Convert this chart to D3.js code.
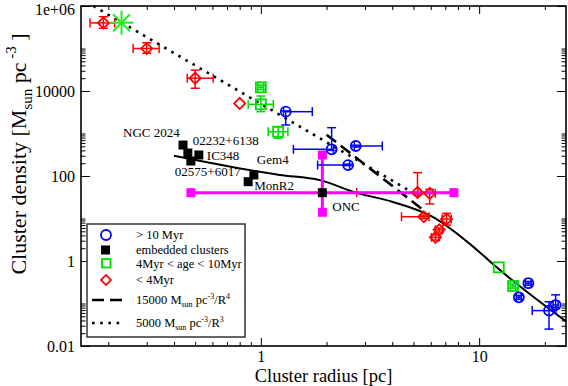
<!DOCTYPE html>
<html>
<head>
<meta charset="utf-8">
<script src="https://cdn.jsdelivr.net/npm/d3@7"></script>
<style>
  body { margin: 0; background: #fff; }
  text { font-family: "Liberation Serif", "Times New Roman", serif; }
</style>
</head>
<body>
<div id="chart"></div>
<script>
let width = 568,
    height = 386,
    margin = ({ top: 6, right: 2, bottom: 40, left: 81 });

// radius [pc], density [Msun pc^-3], error ranges where the picture shows them
const oldClusters = [ // > 10 Myr
  { r: 1.30, d: 3260, rLo: 1.27, rHi: 1.72, dLo: 1585, dHi: 3400 },
  { r: 2.11, d: 425, rLo: 1.41, rHi: 2.15, dLo: 400, dHi: 1370 },
  { r: 2.72, d: 508, rLo: 2.68, rHi: 3.6, dLo: 480, dHi: 530 },
  { r: 2.51, d: 181, rLo: 1.82, rHi: 2.55, dLo: 175, dHi: 190 },
  { r: 16.8, d: 0.30, rLo: 16.3, rHi: 17.3, dLo: 0.27, dHi: 0.33 },
  { r: 15.2, d: 0.14, rLo: 14.8, rHi: 15.6, dLo: 0.125, dHi: 0.155 },
  { r: 22.4, d: 0.092, rLo: 21.8, rHi: 23.0, dLo: 0.08, dHi: 0.16 },
  { r: 20.9, d: 0.068, rLo: 17.5, rHi: 22.5, dLo: 0.025, dHi: 0.11 }
];

const embedded = [
  { name: "NGC 2024", r: 0.44, d: 535 },
  { name: "02232+6138", r: 0.463, d: 348 },
  { name: "IC348", r: 0.52, d: 312 },
  { name: "02575+6017", r: 0.478, d: 225 },
  { name: "Gem4", r: 0.929, d: 106 },
  { name: "MonR2", r: 0.875, d: 73.5 },
  { name: "ONC", r: 1.913, d: 40.5 }
];
const oncError = { rLo: 0.478, rHi: 7.66, dLo: 14, dHi: 312 };

const midAge = [ // 4 Myr < age < 10 Myr
  { r: 1.0, d: 12200, rLo: 0.97, rHi: 1.03, dLo: 10800, dHi: 13800 },
  { r: 1.0, d: 4860, rLo: 0.875, rHi: 1.14, dLo: 3260, dHi: 7620 },
  { r: 1.2, d: 1100, rLo: 1.08, rHi: 1.33, dLo: 770, dHi: 1445 },
  { r: 12.3, d: 0.71 },
  { r: 14.3, d: 0.258, rLo: 13.9, rHi: 14.7, dLo: 0.23, dHi: 0.29 }
];
const star = { r: 0.230, d: 4.05e5 };

const young = [ // < 4 Myr
  { r: 0.19, d: 4.0e5, rLo: 0.165, rHi: 0.214, dLo: 3.0e5, dHi: 5.6e5 },
  { r: 0.30, d: 1.0e5, rLo: 0.26, rHi: 0.342, dLo: 7.7e4, dHi: 1.37e5 },
  { r: 0.50, d: 2.0e4, rLo: 0.46, rHi: 0.605, dLo: 1.16e4, dHi: 3.1e4 },
  { r: 0.80, d: 5100 },
  { r: 5.22, d: 41, rLo: 2.75, rHi: 7.6, dLo: 36, dHi: 120 },
  { r: 5.94, d: 39, rLo: 5.24, rHi: 6.3, dLo: 22, dHi: 48.5 },
  { r: 5.58, d: 11, rLo: 4.41, rHi: 5.9, dLo: 10, dHi: 12 },
  { r: 7.09, d: 9.7, rLo: 6.76, rHi: 7.45, dLo: 7.0, dHi: 13.2 },
  { r: 6.56, d: 5.4, rLo: 6.3, rHi: 6.8, dLo: 4.8, dHi: 6.0 },
  { r: 6.31, d: 3.6, rLo: 6.05, rHi: 6.55, dLo: 3.1, dHi: 4.1 }
];

// reference lines and model curve
const dashR = [2.0, 5.5], dashD = [937, 16.4];     // 15000 / R^4
const dotR = [0.171, 4.7], dotD = [1e6, 48];       // 5000 / R^3
const modelR = [0.40, 1.22, 1.86, 2.75, 4.0, 6.1, 9.8, 12.0, 25];
const modelD = [300, 106, 80, 40, 24.8, 11, 1.8, 0.72, 0.038];

const xMajor = [1, 10], xLabels = ["1", "10"];
const yMajor = [0.01, 1, 100, 1e4, 1e6], yLabels = ["0.01", "1", "100", "10000", "1e+06"];

const svg = d3.select("#chart")
  .append("svg")
  .attr("width", width)
  .attr("height", height)
  .attr("viewBox", [0, 0, width, height]);

let x = d3.scaleLog()
  .domain([0.15, 25])
  .range([margin.left, width - margin.right]);

let y = d3.scaleLog()
  .domain([0.01, 1e6])
  .range([height - margin.bottom, margin.top]);

// minor ticks: 2..9 per decade on x, k * major (k = 2..10) on y
let xMinor = [];
[0.1, 1, 10].forEach(m => { for (let k = 2; k <= 9; k++) xMinor.push(k * m); });
xMinor = xMinor.filter(v => v >= 0.15 && v <= 25);
let yMinor = [];
yMajor.slice(0, -1).forEach(m => { for (let k = 2; k <= 10; k++) yMinor.push(k * m); });

function styleAxis(g) {
  g.select(".domain").remove();
  g.selectAll("line").attr("stroke", "#000");
  g.selectAll("text").attr("font-size", 16).attr("fill", "#000")
    .attr("font-family", "Liberation Serif, serif");
}

const bottom = height - margin.bottom, right = width - margin.right;

// x axis: bottom with labels, top mirrored
svg.append("g").attr("transform", `translate(0,${bottom})`)
  .call(d3.axisBottom(x).tickValues(xMajor).tickFormat((d, i) => xLabels[i])
    .tickSize(-8).tickPadding(5)).call(styleAxis);
svg.append("g").attr("transform", `translate(0,${bottom})`)
  .call(d3.axisBottom(x).tickValues(xMinor).tickFormat("").tickSize(-4)).call(styleAxis);
svg.append("g").attr("transform", `translate(0,${margin.top})`)
  .call(d3.axisTop(x).tickValues(xMajor).tickFormat("").tickSize(-8)).call(styleAxis);
svg.append("g").attr("transform", `translate(0,${margin.top})`)
  .call(d3.axisTop(x).tickValues(xMinor).tickFormat("").tickSize(-4)).call(styleAxis);

// y axis: left with labels, right mirrored
svg.append("g").attr("transform", `translate(${margin.left},0)`)
  .call(d3.axisLeft(y).tickValues(yMajor).tickFormat((d, i) => yLabels[i])
    .tickSize(-9).tickPadding(6)).call(styleAxis)
  .selectAll("text").attr("dy", (d, i) => i === yMajor.length - 1 ? "0.5em" : "0.32em");
svg.append("g").attr("transform", `translate(${margin.left},0)`)
  .call(d3.axisLeft(y).tickValues(yMinor).tickFormat("").tickSize(-4.5)).call(styleAxis);
svg.append("g").attr("transform", `translate(${right},0)`)
  .call(d3.axisRight(y).tickValues(yMajor).tickFormat("").tickSize(-9)).call(styleAxis);
svg.append("g").attr("transform", `translate(${right},0)`)
  .call(d3.axisRight(y).tickValues(yMinor).tickFormat("").tickSize(-4.5)).call(styleAxis);

// frame
svg.append("rect")
  .attr("x", margin.left).attr("y", margin.top)
  .attr("width", right - margin.left).attr("height", bottom - margin.top)
  .attr("fill", "none").attr("stroke", "#000").attr("stroke-width", 1.6);

// axis titles
svg.append("text")
  .attr("x", (margin.left + right) / 2).attr("y", 382)
  .attr("text-anchor", "middle").attr("font-size", 18.5)
  .text("Cluster radius [pc]");

let yt = svg.append("text")
  .attr("transform", `translate(26,154) rotate(-90)`)
  .attr("text-anchor", "middle").attr("font-size", 22);
yt.append("tspan").text("Cluster density [M");
yt.append("tspan").attr("dy", 6).attr("font-size", 15).text("sun");
yt.append("tspan").attr("dy", -6).text(" pc");
yt.append("tspan").attr("dy", -10).attr("font-size", 15).text(" -3");
yt.append("tspan").attr("dy", 10).text(" ]");

// lines
let line = d3.line()
  .x(d => x(d[0]))
  .y(d => y(d[1]));

svg.append("path")
  .datum(dotR.map((r, i) => [r, dotD[i]]))
  .attr("fill", "none").attr("stroke", "#000").attr("stroke-width", 2.6)
  .attr("stroke-dasharray", "2.6 5.6")
  .attr("d", line);

svg.append("path")
  .datum(dashR.map((r, i) => [r, dashD[i]]))
  .attr("fill", "none").attr("stroke", "#000").attr("stroke-width", 2.6)
  .attr("stroke-dasharray", "12 6")
  .attr("d", line);

svg.append("path")
  .datum(modelR.map((r, i) => [r, modelD[i]]))
  .attr("fill", "none").attr("stroke", "#000").attr("stroke-width", 2)
  .attr("d", line.curve(d3.curveMonotoneX));

// error bars
function errorBars(data, color) {
  let g = svg.append("g").attr("stroke", color).attr("stroke-width", 1.5).attr("fill", "none");
  data.filter(d => d.rLo !== undefined).forEach(d => {
    let cy = y(d.d), cx = x(d.r);
    g.append("line").attr("x1", x(d.rLo)).attr("x2", x(d.rHi)).attr("y1", cy).attr("y2", cy);
    [d.rLo, d.rHi].forEach(v => g.append("line")
      .attr("x1", x(v)).attr("x2", x(v)).attr("y1", cy - 4.5).attr("y2", cy + 4.5));
    g.append("line").attr("x1", cx).attr("x2", cx).attr("y1", y(d.dLo)).attr("y2", y(d.dHi));
    [d.dLo, d.dHi].forEach(v => g.append("line")
      .attr("x1", cx - 4.5).attr("x2", cx + 4.5).attr("y1", y(v)).attr("y2", y(v)));
  });
}

errorBars(young, "#ff0000");

// ONC magenta bars with square ends, drawn over the red bars
let onc = embedded.find(d => d.name === "ONC");
let mg = svg.append("g");
mg.append("line")
  .attr("x1", x(oncError.rLo)).attr("x2", x(oncError.rHi))
  .attr("y1", y(onc.d)).attr("y2", y(onc.d))
  .attr("stroke", "#ff00ff").attr("stroke-width", 3);
mg.append("line")
  .attr("x1", x(onc.r)).attr("x2", x(onc.r))
  .attr("y1", y(oncError.dLo)).attr("y2", y(oncError.dHi))
  .attr("stroke", "#ff00ff").attr("stroke-width", 3);
[[oncError.rLo, onc.d], [oncError.rHi, onc.d], [onc.r, oncError.dLo], [onc.r, oncError.dHi]]
  .forEach(p => mg.append("rect")
    .attr("x", x(p[0]) - 4.5).attr("y", y(p[1]) - 4.5)
    .attr("width", 9).attr("height", 9).attr("fill", "#ff00ff"));

errorBars(midAge, "#00dd00");
errorBars(oldClusters, "#0000ff");

// markers
const diamond = d3.symbol().type(d3.symbolSquare).size(62);

svg.append("g").selectAll("path")
  .data(young)
  .join("path")
  .attr("transform", d => `translate(${x(d.r)},${y(d.d)}) rotate(45)`)
  .attr("d", diamond)
  .attr("fill", "none").attr("stroke", "#ff0000").attr("stroke-width", 1.8);

svg.append("g").selectAll("rect")
  .data(midAge)
  .join("rect")
  .attr("x", d => x(d.r) - 5).attr("y", d => y(d.d) - 5)
  .attr("width", 10).attr("height", 10)
  .attr("fill", "none").attr("stroke", "#00dd00").attr("stroke-width", 1.8);

svg.append("g").selectAll("circle")
  .data(oldClusters)
  .join("circle")
  .attr("cx", d => x(d.r)).attr("cy", d => y(d.d)).attr("r", 5)
  .attr("fill", "none").attr("stroke", "#0000ff").attr("stroke-width", 1.8);

svg.append("g").selectAll("rect")
  .data(embedded)
  .join("rect")
  .attr("x", d => x(d.r) - 4.5).attr("y", d => y(d.d) - 4.5)
  .attr("width", 9).attr("height", 9)
  .attr("fill", "#000");

// label offsets from each square
const labelOffset = {
  "NGC 2024": [-60, -8], "02232+6138": [5, -7.5], "IC348": [8, 5],
  "02575+6017": [-16, 15], "Gem4": [3, -11], "MonR2": [6, 8], "ONC": [10, 18]
};
svg.append("g").selectAll("text")
  .data(embedded)
  .join("text")
  .attr("x", d => x(d.r) + labelOffset[d.name][0])
  .attr("y", d => y(d.d) + labelOffset[d.name][1])
  .attr("font-size", 13)
  .text(d => d.name);

// green asterisk
let sg = svg.append("g")
  .attr("transform", `translate(${x(star.r)},${y(star.d)})`)
  .attr("stroke", "#22ee22").attr("stroke-width", 2);
[0, 45, 90, 135].forEach(a => sg.append("line")
  .attr("x1", -12).attr("x2", 12).attr("transform", `rotate(${a})`));

// legend
let lg = svg.append("g");
lg.append("rect")
  .attr("x", 87).attr("y", 224).attr("width", 158).attr("height", 113)
  .attr("fill", "#fff").attr("stroke", "#333").attr("stroke-width", 1.5);
lg.append("circle").attr("cx", 106).attr("cy", 235).attr("r", 5)
  .attr("fill", "none").attr("stroke", "#0000ff").attr("stroke-width", 1.8);
lg.append("rect").attr("x", 101).attr("y", 245.5).attr("width", 9).attr("height", 9).attr("fill", "#000");
lg.append("rect").attr("x", 102).attr("y", 259).attr("width", 8.5).attr("height", 8.5)
  .attr("fill", "none").attr("stroke", "#00dd00").attr("stroke-width", 1.8);
lg.append("path").attr("transform", "translate(106,280) rotate(45)")
  .attr("d", d3.symbol().type(d3.symbolSquare).size(50))
  .attr("fill", "none").attr("stroke", "#ff0000").attr("stroke-width", 1.8);
lg.append("line").attr("x1", 92).attr("x2", 122).attr("y1", 300).attr("y2", 300)
  .attr("stroke", "#000").attr("stroke-width", 2.6).attr("stroke-dasharray", "12 6");
lg.append("line").attr("x1", 92).attr("x2", 122).attr("y1", 323).attr("y2", 323)
  .attr("stroke", "#000").attr("stroke-width", 2.6).attr("stroke-dasharray", "2.6 5.6");

const legendRows = [["> 10 Myr", 239], ["embedded clusters", 254], ["4Myr < age < 10Myr", 268], ["< 4Myr", 284]];
legendRows.forEach(r => lg.append("text").attr("x", 136).attr("y", r[1])
  .attr("font-size", 12.5).text(r[0]));

function formulaText(yy, coef, pow) {
  let t = lg.append("text").attr("x", 136).attr("y", yy).attr("font-size", 12.5);
  t.append("tspan").text(coef + " M");
  t.append("tspan").attr("dy", 3).attr("font-size", 8).text("sun");
  t.append("tspan").attr("dy", -3).text(" pc");
  t.append("tspan").attr("dy", -5).attr("font-size", 8).text("-3");
  t.append("tspan").attr("dy", 5).text("/R");
  t.append("tspan").attr("dy", -5).attr("font-size", 8).text(pow);
}
formulaText(304, "15000", "4");
formulaText(327, "5000", "3");
</script>
</body>
</html>
